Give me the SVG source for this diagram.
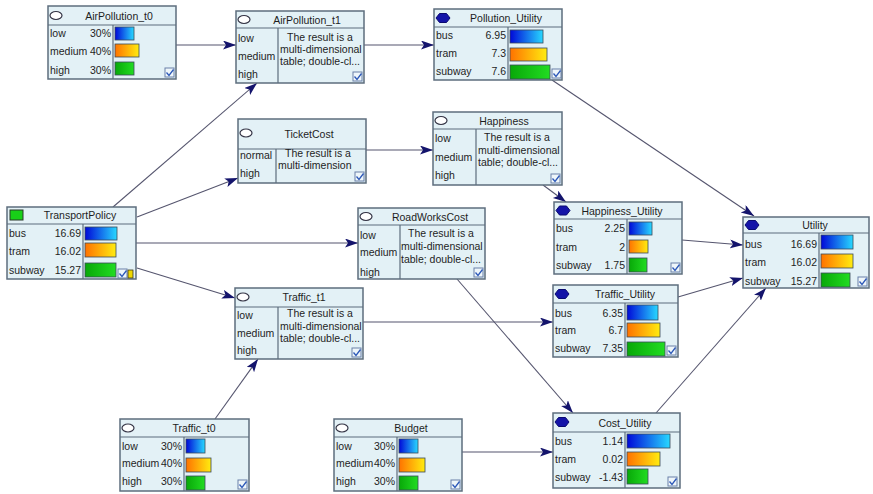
<svg xmlns="http://www.w3.org/2000/svg" width="873" height="494" viewBox="0 0 873 494">
  <style>
    .box { fill: #e3f1f6; stroke: #5d6d7d; stroke-width: 1.5; }
    .sep { stroke: #5d6d7d; stroke-width: 1.2; }
    .ico { fill: #ffffff; stroke: #333344; stroke-width: 1.2; }
    .uico { fill: #1414a8; stroke: #0a0a70; stroke-width: 1; }
    text { font-family: "Liberation Sans", Arial, sans-serif; font-size: 10.5px; fill: #1e1e1e; }
    .ttl { text-anchor: middle; }
    .val { text-anchor: end; }
    .bar { stroke: #3a4a5a; stroke-width: 0.8; }
    .blue { fill: url(#gBlue); }
    .orange { fill: url(#gOrange); }
    .green { fill: url(#gGreen); }
    .cb { fill: #eef6fa; stroke: #6a80a8; stroke-width: 1; }
    .ck { fill: none; stroke: #2c58b8; stroke-width: 1.3; }
    .edge { fill: none; stroke: #55556e; stroke-width: 1.1; marker-end: url(#arrow); }
  </style>
  <defs>
    <linearGradient id="gBlue" x1="0" y1="0" x2="1" y2="0">
      <stop offset="0" stop-color="#0008d8"/>
      <stop offset="1" stop-color="#28d8ff"/>
    </linearGradient>
    <linearGradient id="gOrange" x1="0" y1="0" x2="1" y2="0">
      <stop offset="0" stop-color="#ff7200"/>
      <stop offset="1" stop-color="#ffec10"/>
    </linearGradient>
    <linearGradient id="gGreen" x1="0" y1="0" x2="1" y2="0">
      <stop offset="0" stop-color="#08a808"/>
      <stop offset="1" stop-color="#22dc22"/>
    </linearGradient>
    <marker id="arrow" markerUnits="userSpaceOnUse" markerWidth="14" markerHeight="10" refX="13" refY="4.5" orient="auto">
      <path d="M0,0 L13,4.5 L0,9 L3,4.5 z" fill="#14146c"/>
    </marker>
    <g id="check">
      <rect class="cb" x="0" y="0" width="9" height="9"/>
      <path class="ck" d="M1.5,4.5 L4,7.5 L8.5,1.5"/>
    </g>
    <!-- utility node icon, centred on 0,0 -->
    <polygon id="hex" class="uico" points="-7,0 -3.5,-4.5 3.5,-4.5 7,0 3.5,4.5 -3.5,4.5"/>
  </defs>

  <rect width="873" height="494" fill="#ffffff"/>

  <!-- connectors -->
  <g id="connectors">
    <path class="edge" d="M176,45 L236,45"/>
    <path class="edge" d="M364,45 L434,45"/>
    <path class="edge" d="M113,207 L257,83"/>
    <path class="edge" d="M137,217 L238,178"/>
    <path class="edge" d="M136,243 L358,243"/>
    <path class="edge" d="M137,268 L235,298"/>
    <path class="edge" d="M366,150 L433,150"/>
    <path class="edge" d="M552,80 L754,216"/>
    <path class="edge" d="M543,185 L566,202"/>
    <path class="edge" d="M457,279 L573,413"/>
    <path class="edge" d="M682,240 L743,245"/>
    <path class="edge" d="M363,322 L553,322"/>
    <path class="edge" d="M678,297 L743,278"/>
    <path class="edge" d="M656,413 L766,288"/>
    <path class="edge" d="M215,419 L258,359"/>
    <path class="edge" d="M462,452 L553,452"/>
  </g>

  <!-- chance node -->
  <g id="AirPollution_t0">
    <rect class="box" x="48" y="6" width="128" height="73"/>
    <line class="sep" x1="48" y1="25" x2="176" y2="25"/>
    <line class="sep" x1="113" y1="25" x2="113" y2="79"/>
    <ellipse class="ico" cx="56" cy="15.5" rx="6" ry="4"/>
    <text class="ttl" x="119" y="20">AirPollution_t0</text>
    <text x="50" y="37">low</text>
    <text x="50" y="55">medium</text>
    <text x="50" y="74">high</text>
    <text class="val" x="111" y="37">30%</text>
    <text class="val" x="111" y="55">40%</text>
    <text class="val" x="111" y="74">30%</text>
    <rect class="bar blue" x="115" y="27" width="19" height="13"/>
    <rect class="bar orange" x="115" y="44" width="24" height="13"/>
    <rect class="bar green" x="115" y="62" width="19" height="13"/>
    <use href="#check" x="165" y="68"/>
  </g>

  <g id="AirPollution_t1">
    <rect class="box" x="236" y="11" width="128" height="72"/>
    <line class="sep" x1="236" y1="28" x2="364" y2="28"/>
    <line class="sep" x1="278" y1="28" x2="278" y2="83"/>
    <ellipse class="ico" cx="244" cy="19.5" rx="6" ry="4"/>
    <text class="ttl" x="307" y="24">AirPollution_t1</text>
    <text x="238" y="41.5">low</text>
    <text x="238" y="60">medium</text>
    <text x="238" y="78">high</text>
    <text x="287" y="40.5">The result is a</text>
    <text x="280" y="52.5">multi-dimensional</text>
    <text x="280" y="64.5">table; double-cl...</text>
    <use href="#check" x="353" y="72"/>
  </g>

  <g id="Pollution_Utility">
    <rect class="box" x="434" y="9" width="128" height="71"/>
    <line class="sep" x1="434" y1="27" x2="562" y2="27"/>
    <line class="sep" x1="508" y1="27" x2="508" y2="80"/>
    <use href="#hex" x="443" y="18"/>
    <text class="ttl" x="506" y="22">Pollution_Utility</text>
    <text x="436" y="39">bus</text>
    <text x="436" y="57">tram</text>
    <text x="436" y="75">subway</text>
    <text class="val" x="506" y="39">6.95</text>
    <text class="val" x="506" y="57">7.3</text>
    <text class="val" x="506" y="75">7.6</text>
    <rect class="bar blue" x="510" y="30" width="33" height="13"/>
    <rect class="bar orange" x="510" y="48" width="37" height="13"/>
    <rect class="bar green" x="510" y="65" width="40" height="14"/>
    <use href="#check" x="552" y="69"/>
  </g>

  <g id="TicketCost">
    <rect class="box" x="238" y="119" width="128" height="64"/>
    <line class="sep" x1="238" y1="149" x2="366" y2="149"/>
    <line class="sep" x1="276" y1="149" x2="276" y2="183"/>
    <ellipse class="ico" cx="246" cy="133" rx="6" ry="4"/>
    <text class="ttl" x="309" y="138">TicketCost</text>
    <text x="240" y="159">normal</text>
    <text x="240" y="177">high</text>
    <text x="285" y="157">The result is a</text>
    <text x="278" y="169">multi-dimension</text>
    <use href="#check" x="355" y="172"/>
  </g>

  <g id="Happiness">
    <rect class="box" x="433" y="112" width="129" height="73"/>
    <line class="sep" x1="433" y1="129" x2="562" y2="129"/>
    <line class="sep" x1="476" y1="129" x2="476" y2="185"/>
    <ellipse class="ico" cx="441" cy="120.5" rx="6" ry="4"/>
    <text class="ttl" x="504" y="125">Happiness</text>
    <text x="435" y="142">low</text>
    <text x="435" y="161">medium</text>
    <text x="435" y="179">high</text>
    <text x="484" y="141">The result is a</text>
    <text x="478" y="154">multi-dimensional</text>
    <text x="478" y="166">table; double-cl...</text>
    <use href="#check" x="551" y="174"/>
  </g>

  <!-- decision node -->
  <g id="TransportPolicy">
    <rect class="box" x="7" y="207" width="129" height="72"/>
    <line class="sep" x1="7" y1="224" x2="136" y2="224"/>
    <line class="sep" x1="83" y1="224" x2="83" y2="279"/>
    <rect x="10" y="210" width="13" height="10" fill="#18d018" stroke="#2a3a2a" stroke-width="1"/>
    <text class="ttl" x="80" y="219">TransportPolicy</text>
    <text x="9" y="237">bus</text>
    <text x="9" y="255">tram</text>
    <text x="9" y="274">subway</text>
    <text class="val" x="81" y="237">16.69</text>
    <text class="val" x="81" y="255">16.02</text>
    <text class="val" x="81" y="274">15.27</text>
    <rect class="bar blue" x="85" y="227" width="32" height="13"/>
    <rect class="bar orange" x="85" y="243" width="31" height="14"/>
    <rect class="bar green" x="85" y="263" width="31" height="14"/>
    <use href="#check" x="118" y="269"/>
    <rect x="128" y="270" width="5" height="8" fill="#f0d800" stroke="#3a3a20" stroke-width="0.8"/>
  </g>

  <g id="RoadWorksCost">
    <rect class="box" x="358" y="208" width="127" height="71"/>
    <line class="sep" x1="358" y1="225" x2="485" y2="225"/>
    <line class="sep" x1="400" y1="225" x2="400" y2="279"/>
    <ellipse class="ico" cx="366" cy="216.5" rx="6" ry="4"/>
    <text class="ttl" x="430" y="221">RoadWorksCost</text>
    <text x="360" y="239">low</text>
    <text x="360" y="256">medium</text>
    <text x="360" y="276">high</text>
    <text x="408" y="237">The result is a</text>
    <text x="401" y="250">multi-dimensional</text>
    <text x="401" y="263">table; double-cl...</text>
    <use href="#check" x="474" y="268"/>
  </g>

  <!-- utility nodes -->
  <g id="Happiness_Utility">
    <rect class="box" x="554" y="202" width="128" height="72"/>
    <line class="sep" x1="554" y1="219" x2="682" y2="219"/>
    <line class="sep" x1="627" y1="219" x2="627" y2="274"/>
    <use href="#hex" x="563" y="210.5"/>
    <text class="ttl" x="622" y="215">Happiness_Utility</text>
    <text x="556" y="232">bus</text>
    <text x="556" y="251">tram</text>
    <text x="556" y="269">subway</text>
    <text class="val" x="625" y="232">2.25</text>
    <text class="val" x="625" y="251">2</text>
    <text class="val" x="625" y="269">1.75</text>
    <rect class="bar blue" x="629" y="222" width="23" height="13"/>
    <rect class="bar orange" x="629" y="240" width="19" height="13"/>
    <rect class="bar green" x="629" y="258" width="18" height="14"/>
    <use href="#check" x="671" y="263"/>
  </g>

  <g id="Utility">
    <rect class="box" x="743" y="217" width="126" height="71"/>
    <line class="sep" x1="743" y1="233" x2="869" y2="233"/>
    <line class="sep" x1="819" y1="233" x2="819" y2="288"/>
    <use href="#hex" x="752" y="225"/>
    <text class="ttl" x="815" y="229">Utility</text>
    <text x="745" y="248">bus</text>
    <text x="745" y="266">tram</text>
    <text x="745" y="285">subway</text>
    <text class="val" x="817" y="248">16.69</text>
    <text class="val" x="817" y="266">16.02</text>
    <text class="val" x="817" y="285">15.27</text>
    <rect class="bar blue" x="821" y="235" width="32" height="14"/>
    <rect class="bar orange" x="821" y="254" width="32" height="14"/>
    <rect class="bar green" x="821" y="273" width="29" height="14"/>
    <use href="#check" x="858" y="277"/>
  </g>

  <g id="Traffic_t1">
    <rect class="box" x="235" y="288" width="128" height="71"/>
    <line class="sep" x1="235" y1="307" x2="363" y2="307"/>
    <line class="sep" x1="278" y1="307" x2="278" y2="359"/>
    <ellipse class="ico" cx="243" cy="297" rx="6" ry="4"/>
    <text class="ttl" x="304" y="301">Traffic_t1</text>
    <text x="237" y="319">low</text>
    <text x="237" y="337">medium</text>
    <text x="237" y="354">high</text>
    <text x="287" y="317">The result is a</text>
    <text x="280" y="330">multi-dimensional</text>
    <text x="280" y="342">table; double-cl...</text>
    <use href="#check" x="352" y="348"/>
  </g>

  <g id="Traffic_Utility">
    <rect class="box" x="553" y="285" width="125" height="72"/>
    <line class="sep" x1="553" y1="303" x2="678" y2="303"/>
    <line class="sep" x1="625" y1="303" x2="625" y2="357"/>
    <use href="#hex" x="562" y="294"/>
    <text class="ttl" x="625" y="298">Traffic_Utility</text>
    <text x="555" y="317">bus</text>
    <text x="555" y="334">tram</text>
    <text x="555" y="352">subway</text>
    <text class="val" x="623" y="317">6.35</text>
    <text class="val" x="623" y="334">6.7</text>
    <text class="val" x="623" y="352">7.35</text>
    <rect class="bar blue" x="627" y="305" width="31" height="15"/>
    <rect class="bar orange" x="627" y="323" width="33" height="14"/>
    <rect class="bar green" x="627" y="342" width="38" height="14"/>
    <use href="#check" x="667" y="346"/>
  </g>

  <g id="Traffic_t0">
    <rect class="box" x="120" y="419" width="129" height="72"/>
    <line class="sep" x1="120" y1="437" x2="249" y2="437"/>
    <line class="sep" x1="184" y1="437" x2="184" y2="491"/>
    <ellipse class="ico" cx="128" cy="428" rx="6" ry="4"/>
    <text class="ttl" x="194" y="432">Traffic_t0</text>
    <text x="122" y="450">low</text>
    <text x="122" y="467">medium</text>
    <text x="122" y="485">high</text>
    <text class="val" x="182" y="450">30%</text>
    <text class="val" x="182" y="467">40%</text>
    <text class="val" x="182" y="485">30%</text>
    <rect class="bar blue" x="186" y="439" width="19" height="14"/>
    <rect class="bar orange" x="186" y="458" width="25" height="14"/>
    <rect class="bar green" x="186" y="476" width="19" height="14"/>
    <use href="#check" x="238" y="480"/>
  </g>

  <g id="Budget">
    <rect class="box" x="334" y="419" width="128" height="72"/>
    <line class="sep" x1="334" y1="437" x2="462" y2="437"/>
    <line class="sep" x1="397" y1="437" x2="397" y2="491"/>
    <ellipse class="ico" cx="342" cy="428" rx="6" ry="4"/>
    <text class="ttl" x="411" y="432">Budget</text>
    <text x="336" y="450">low</text>
    <text x="336" y="467">medium</text>
    <text x="336" y="485">high</text>
    <text class="val" x="395" y="450">30%</text>
    <text class="val" x="395" y="467">40%</text>
    <text class="val" x="395" y="485">30%</text>
    <rect class="bar blue" x="399" y="439" width="19" height="14"/>
    <rect class="bar orange" x="399" y="458" width="26" height="14"/>
    <rect class="bar green" x="399" y="476" width="19" height="14"/>
    <use href="#check" x="451" y="480"/>
  </g>

  <g id="Cost_Utility">
    <rect class="box" x="553" y="413" width="127" height="75"/>
    <line class="sep" x1="553" y1="432" x2="680" y2="432"/>
    <line class="sep" x1="625" y1="432" x2="625" y2="488"/>
    <use href="#hex" x="562" y="422"/>
    <text class="ttl" x="625" y="427">Cost_Utility</text>
    <text x="555" y="445">bus</text>
    <text x="555" y="463">tram</text>
    <text x="555" y="481">subway</text>
    <text class="val" x="623" y="445">1.14</text>
    <text class="val" x="623" y="463">0.02</text>
    <text class="val" x="623" y="481">-1.43</text>
    <rect class="bar blue" x="627" y="434" width="43" height="14"/>
    <rect class="bar orange" x="627" y="452" width="33" height="14"/>
    <rect class="bar green" x="627" y="469" width="21" height="15"/>
    <use href="#check" x="668" y="477"/>
  </g>
</svg>
